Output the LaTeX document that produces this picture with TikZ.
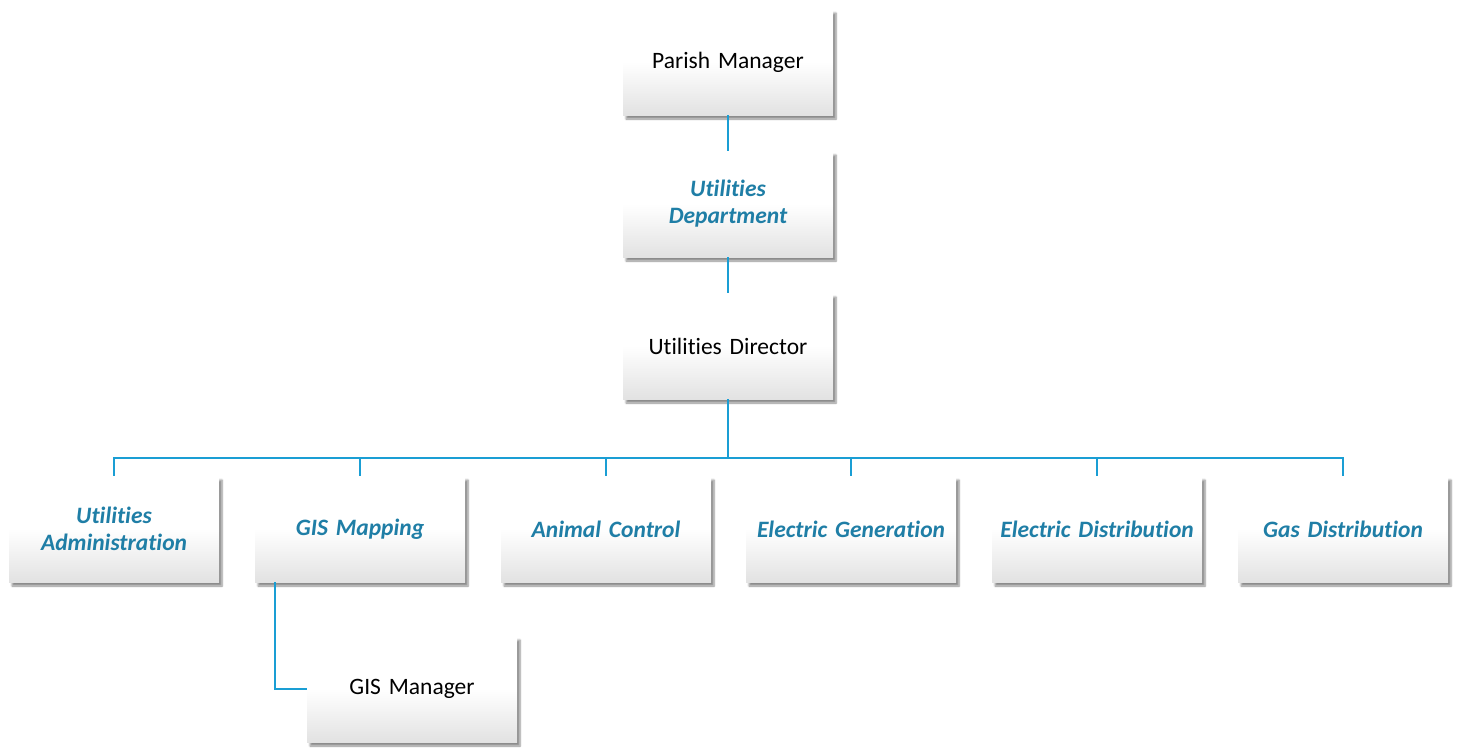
\documentclass[tikz,border=0pt]{standalone}
\usepackage{fontspec}
\setmainfont{Carlito}[Ligatures=NoCommon]
\usetikzlibrary{shadows.blur}
\definecolor{linec}{RGB}{26,158,212}
\definecolor{txtc}{RGB}{31,126,166}
\definecolor{botc}{RGB}{226,226,226}
\tikzset{
  orgbox/.style={minimum width=210pt, minimum height=106pt, inner sep=2pt,
    align=center, text width=204pt,
    top color=white, bottom color=botc, middle color=white,
    blur shadow={shadow xshift=3pt, shadow yshift=-4pt, shadow blur steps=6, shadow opacity=45},
    font=\fontsize{23.5}{27}\selectfont},
  unitbox/.style={orgbox, text=txtc, font=\fontsize{23.5}{27}\selectfont\bfseries\itshape},
  conn/.style={draw=linec, line width=2.8pt}
}
\begin{document}
\begin{tikzpicture}[x=1pt,y=-1pt]
\useasboundingbox (0,0) rectangle (1458,747);
\node[orgbox] (pm) at (728,62) {Parish Manager};
\node[unitbox] (ud) at (728,204) {Utilities\\Department};
\node[orgbox] (dir) at (728,346) {Utilities Director};
\node[unitbox] (ua) at (114,529) {Utilities\\Administration};
\node[unitbox] (gis) at (360,529) {GIS Mapping};
\node[unitbox] (ac) at (606,529) {Animal Control};
\node[unitbox] (eg) at (851,529) {Electric Generation};
\node[unitbox] (ed) at (1097,529) {Electric Distribution};
\node[unitbox] (gd) at (1343,529) {Gas Distribution};
\node[orgbox] (gm) at (412,689) {GIS Manager};
\coordinate (bus) at (728,458);
\coordinate (gtap) at (275,582);
\draw[conn] (pm.south) -- (ud.north);
\draw[conn] (ud.south) -- (dir.north);
\foreach \c in {ua,gis,ac,eg,ed,gd}{
  \draw[conn] (dir.south) -- (bus) -| (\c.north);
}
\draw[conn] (gtap) |- (gm.west);
\end{tikzpicture}
\end{document}
